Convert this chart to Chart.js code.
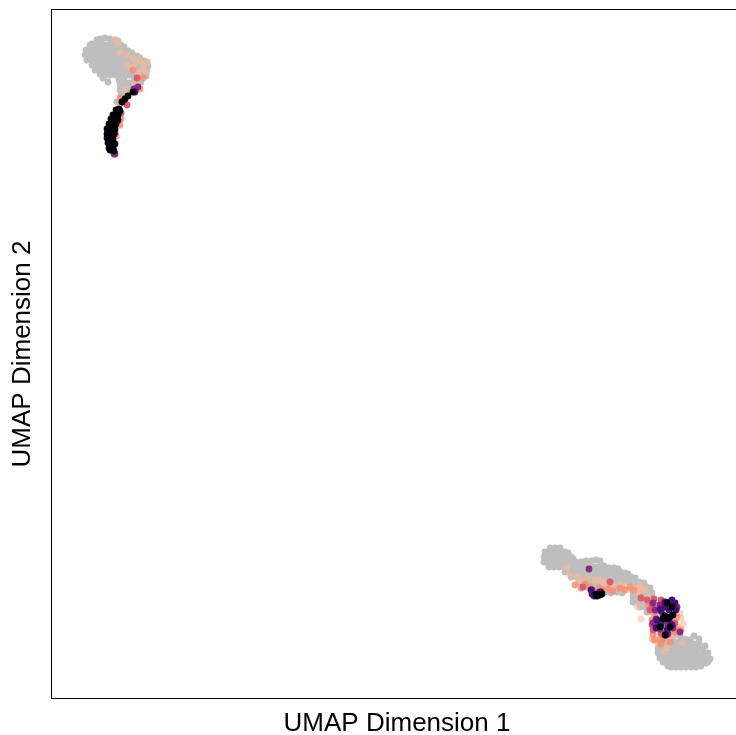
<!DOCTYPE html>
<html>
<head>
<meta charset="utf-8">
<style>
  body { margin: 0; background: #fff; overflow: hidden; }
  canvas { display: block; }
</style>
<script src="https://cdn.jsdelivr.net/npm/chart.js@4"></script>
</head>
<body>
<!-- wider than the window on purpose, the box runs off the right side -->
<canvas id="myChart" width="743" height="735"></canvas>
<script>
let xTitle = 'UMAP Dimension 1';
let yTitle = 'UMAP Dimension 2';

// [dim1, dim2]
const grey = [
  [4.6,65.9],[4.9,66.0],[5.4,66.1],[5.9,66.0],[6.4,65.9],[6.7,65.8],
  [3.9,65.4],[4.1,65.5],[4.6,65.4],[5.1,65.5],[5.6,65.4],[6.1,65.5],[6.6,65.4],[7.0,65.4],[7.3,65.2],
  [3.5,64.9],[3.8,64.9],[4.3,64.9],[4.8,64.9],[5.3,64.9],[5.8,64.9],[6.3,64.9],[6.8,64.9],[7.3,64.9],[7.7,64.8],[8.1,64.6],
  [3.4,64.4],[3.6,64.4],[4.1,64.4],[4.6,64.4],[5.1,64.4],[5.6,64.4],[6.1,64.4],[6.6,64.4],[7.1,64.4],[7.6,64.4],[8.1,64.4],[8.6,64.3],[8.9,64.1],
  [3.6,63.9],[3.9,63.9],[4.4,63.9],[4.9,63.9],[5.4,63.9],[5.9,63.9],[6.4,63.9],[6.9,63.9],[7.4,63.9],[7.9,63.9],[8.4,63.9],[8.9,63.9],[9.3,63.8],[9.6,63.7],
  [4.1,63.4],[4.4,63.4],[4.9,63.4],[5.4,63.4],[5.9,63.4],[6.4,63.4],[6.9,63.4],[7.4,63.4],[7.9,63.4],[8.4,63.4],[8.9,63.4],[9.4,63.4],[9.7,63.3],
  [4.4,62.9],[4.7,62.9],[5.2,62.9],[5.7,62.9],[6.2,62.9],[6.7,62.9],[7.2,62.9],[7.7,62.9],[8.2,62.9],[8.7,62.9],[9.2,62.9],[9.6,62.9],
  [4.9,62.5],[5.4,62.4],[5.9,62.4],[6.4,62.4],[6.9,62.5],[7.4,62.5],[7.8,62.4],[8.3,62.4],[8.8,62.4],[9.3,62.5],[9.5,62.3],
  [5.2,62.1],[5.7,61.7],[6.8,61.9],[7.3,61.9],[7.8,61.6],[8.3,61.9],[8.8,61.9],[9.0,61.7],
  [6.9,61.4],[7.4,61.4],[7.8,61.2],[8.2,61.5],[8.6,61.3],
  [6.9,60.9],[7.3,60.9],[7.7,60.8],[8.0,61.0],[7.0,60.4],[7.4,60.4],[7.7,60.5],[6.6,59.7],
  [49.9,15.1],[50.4,15.1],[50.9,15.1],[49.4,14.7],[49.9,14.7],[50.4,14.7],[50.9,14.7],[51.4,14.7],[51.7,14.6],
  [49.3,14.2],[49.5,14.2],[50.0,14.2],[50.5,14.2],[51.0,14.2],[51.5,14.2],[52.0,14.2],[52.2,14.0],
  [49.3,13.7],[49.5,13.7],[50.0,13.7],[50.5,13.7],[51.0,13.7],[51.5,13.7],[52.0,13.7],[52.5,13.7],[53.0,13.7],[53.5,13.8],[54.0,13.8],[54.5,13.9],[54.9,13.8],
  [49.8,13.2],[50.3,13.2],[50.8,13.2],[51.3,13.2],[51.8,13.2],[52.3,13.2],[52.8,13.2],[53.3,13.2],[53.8,13.2],[54.3,13.2],[54.8,13.2],[55.3,13.3],[55.8,13.1],[56.3,13.1],[56.7,13.0],
  [51.4,12.7],[51.9,12.7],[52.4,12.7],[52.9,12.7],[53.4,12.7],[53.9,12.7],[54.4,12.7],[54.9,12.7],[55.4,12.7],[55.9,12.7],[56.4,12.7],[56.9,12.7],[57.4,12.6],[57.7,12.5],
  [52.0,12.2],[52.5,12.2],[53.0,12.2],[53.5,12.2],[54.0,12.2],[54.5,12.2],[55.0,12.2],[55.5,12.2],[56.0,12.2],[56.5,12.2],[57.0,12.2],[57.5,12.2],[58.0,12.2],[58.4,12.1],
  [52.8,11.7],[53.3,11.7],[53.8,11.7],[54.3,11.7],[54.8,11.7],[55.3,11.7],[55.8,11.7],[56.3,11.7],[56.8,11.7],[57.3,11.7],[57.8,11.7],[58.3,11.7],[58.8,11.7],[59.3,11.6],
  [53.6,11.2],[54.1,11.2],[54.6,11.2],[55.1,11.2],[55.6,11.2],[56.1,11.2],[56.6,11.2],[57.1,11.2],[58.5,11.2],[59.0,11.2],[59.5,11.2],[59.9,11.1],
  [55.5,10.7],[56.0,10.6],[56.6,10.7],[57.1,10.6],[58.2,10.7],[58.7,10.7],[59.2,10.7],[59.7,10.7],[60.1,10.6],
  [58.2,10.2],[58.7,10.2],[59.2,10.2],[59.7,10.2],[58.2,9.7],[58.7,9.7],[59.2,9.7],[59.6,9.6],
  [58.9,9.2],[59.4,9.2],[59.9,9.2],[59.6,8.7],[60.1,8.7],[60.4,8.5],
  [60.6,8.1],[61.2,8.0],[60.9,7.5],[61.6,7.2],[61.9,6.7],[62.1,7.0],[62.4,6.5],[62.9,6.3],
  [61.3,6.1],[61.7,5.8],[62.4,5.7],[62.9,5.7],[63.4,6.0],[63.9,5.9],[62.2,6.0],[64.3,6.3],[64.8,6.0],
  [61.0,5.9],[60.8,5.5],[61.3,5.5],[61.8,5.4],[62.3,5.3],[62.8,5.3],[63.3,5.4],[63.8,5.4],[64.3,5.5],[64.8,5.6],
  [60.7,5.1],[61.2,5.0],[61.7,4.9],[62.2,4.9],[62.7,4.9],[63.2,4.9],[63.7,4.9],[64.2,4.9],[64.7,5.0],[65.2,5.0],[65.4,5.3],
  [60.7,4.6],[61.1,4.5],[61.6,4.4],[62.1,4.4],[62.6,4.4],[63.1,4.4],[63.6,4.4],[64.1,4.4],[64.6,4.4],[65.1,4.4],[65.6,4.5],[65.7,4.6],
  [60.9,4.1],[61.2,4.0],[61.7,3.9],[62.2,3.9],[62.7,3.9],[63.2,3.9],[63.7,3.9],[64.2,3.9],[64.7,3.9],[65.2,3.9],[65.7,3.9],[65.9,4.0],
  [61.2,3.7],[61.5,3.6],[62.0,3.5],[62.5,3.5],[63.0,3.5],[63.5,3.5],[64.0,3.5],[64.5,3.5],[65.0,3.5],[65.5,3.6],[65.7,3.7],
  [61.7,3.3],[62.0,3.2],[62.5,3.2],[63.0,3.2],[63.5,3.2],[64.0,3.2],[64.5,3.2],[65.0,3.3]
];
const peach = [
  [6.4,65.9],[6.7,65.6],[6.9,64.6],[7.6,64.4],[8.2,64.1],[7.6,63.4],[8.4,63.6],[8.9,63.9],[9.6,63.7],[9.2,62.9],[8.2,63.1],[9.6,62.7],[8.9,62.1],[8.4,61.6],[7.4,60.9],[9.2,63.4],[8.7,62.7],
  [51.6,13.1],[51.9,12.4],[52.6,12.2],[53.6,12.1],[54.4,11.9],[55.0,11.9],[53.0,11.8],[55.6,11.5],[56.2,11.3],[55.2,11.6],[57.9,11.0],[58.6,11.0],[58.9,11.4],[59.0,10.9],[58.7,10.6],[58.1,10.9],[56.9,11.5],[57.5,11.3],[59.5,10.9],
  [59.0,8.0],[60.3,8.1],[62.1,7.9],[63.0,8.1],[60.7,7.0],[62.2,6.3],[60.7,5.6],[61.4,4.7],[63.1,5.6],[61.6,5.1],[60.1,6.0],[60.6,6.5],[61.7,6.0],[62.7,7.2],[63.2,7.5],[62.9,8.6],[59.6,10.2],[59.3,9.9],[58.6,9.2]
];
const coral = [
  [9.2,62.1],[8.2,62.9],[8.9,61.0],[6.9,60.1],[6.2,57.1],[7.0,58.0],[6.9,57.4],[6.5,56.3],[6.1,54.9],[5.8,55.6],
  [52.4,11.4],[53.9,11.2],[55.2,10.9],[55.7,11.0],[56.9,11.1],[57.4,10.9],[57.9,11.2],[56.2,10.8],[54.8,11.1],[58.3,10.9],[53.4,11.5],[53.0,11.1],
  [60.4,8.6],[62.2,8.6],[60.4,7.2],[60.1,7.9],[60.2,6.4],[61.2,6.0],[61.9,5.7],[62.4,6.7],[60.9,6.0],[61.2,9.1],[62.6,8.2],[60.5,9.4],[59.8,9.3],[62.6,7.0],[61.0,5.5],[60.3,5.9],[63.0,6.9]
];
const pink = [
  [8.6,62.1],[7.6,59.4],[6.6,57.7],[7.0,58.6],[53.2,11.2],[55.9,11.7],
  [59.6,9.9],[59.0,10.1],[60.1,9.4],[60.1,7.4],[59.9,8.9],[62.4,7.6],[61.0,6.6],[60.2,6.9],[60.3,10.0],[61.0,9.9]
];
const purple = [
  [8.7,61.2],[8.3,61.0],[7.1,59.7],[6.4,56.6],[6.4,54.5],[6.3,54.5],
  [53.8,13.0],[54.1,10.9],[55.0,10.7],
  [60.2,9.6],[60.9,9.4],[60.4,8.9],[61.2,8.4],[60.7,7.6],[60.2,7.6],[61.7,7.4],[62.2,7.1],[60.9,7.0],[62.9,6.7],[61.7,6.5],[60.5,8.0],[61.6,7.9],[62.6,9.2],[60.6,7.2],[61.3,7.8],[61.9,7.6]
];
const darkPurple = [
  [8.4,60.7],[54.1,10.5],[54.0,10.9],[54.9,10.7],[54.3,10.3],
  [61.4,9.7],[61.9,9.7],[61.4,9.2],[61.0,8.8],[61.8,8.9],[60.6,7.9],[61.0,7.3],[61.6,6.9],[62.1,7.4],[60.5,7.1],[61.5,6.4],[62.4,9.6],[62.1,9.9],[60.9,9.0],[62.5,8.9]
];
const black = [
  [8.2,60.7],[7.7,60.3],[7.4,60.0],[7.1,59.7],[6.8,59.0],[6.5,58.9],[6.9,58.8],[6.2,58.4],[6.7,58.4],[6.0,58.0],[6.4,57.9],[6.7,57.9],[5.8,57.5],[6.1,57.5],[6.5,57.5],
  [5.6,57.0],[6.0,57.0],[6.4,57.0],[5.6,56.5],[5.9,56.5],[6.3,56.5],[5.6,56.1],[5.9,56.1],[6.2,56.0],[5.7,55.6],[6.0,55.7],[5.8,55.1],[6.2,55.2],[5.9,54.9],[6.3,54.8],
  [6.4,55.5],
  [54.5,10.5],[54.9,10.4],[54.6,10.3],[55.1,10.5],
  [62.1,9.2],[61.6,9.6],[61.4,8.3],[62.2,8.4],[61.2,8.0],[61.7,8.0],[61.9,8.2],[60.9,7.2],[61.9,7.2],[61.4,6.4]
];

function setOf(points, color, order) {
  return {
    data: points.map(p => ({ x: p[0], y: p[1] })),
    backgroundColor: color,
    borderWidth: 0,
    order: order,
    pointRadius: 3.4,
    pointHoverRadius: 3.4
  };
}

// no ticks, just the box
const frame = {
  id: 'frame',
  afterDraw(chart) {
    let a = chart.chartArea;
    chart.ctx.save();
    chart.ctx.strokeStyle = '#000';
    chart.ctx.lineWidth = 1;
    chart.ctx.strokeRect(a.left + 0.5, a.top + 0.5, a.width - 1, a.height - 1);
    chart.ctx.restore();
  }
};

let chartFont = { family: '"Liberation Sans", Arial, sans-serif', size: 26 };

new Chart(document.getElementById('myChart'), {
  type: 'scatter',
  data: {
    datasets: [
      setOf(grey, '#bebebe', 7),
      setOf(peach, 'rgba(252,186,148,0.55)', 6),
      setOf(coral, 'rgba(249,142,111,0.85)', 5),
      setOf(pink, '#dc5a72', 4),
      setOf(purple, '#8c2a81', 3),
      setOf(darkPurple, '#45107a', 2),
      setOf(black, '#000004', 1)
    ]
  },
  options: {
    responsive: false,
    animation: false,
    devicePixelRatio: 1,
    layout: { autoPadding: false, padding: { top: 9, right: 0, left: 0, bottom: 0 } },
    plugins: { legend: { display: false }, tooltip: { enabled: false } },
    scales: {
      x: {
        type: 'linear', min: 0, max: 69.2,
        grid: { display: false }, border: { display: false },
        ticks: { display: false },
        title: { display: true, text: xTitle, color: '#000', font: chartFont, padding: { top: 0, bottom: -4 } },
        afterFit(s) { s.height = 36; }
      },
      y: {
        type: 'linear', min: 0, max: 69,
        grid: { display: false }, border: { display: false },
        ticks: { display: false },
        title: { display: true, text: yTitle, color: '#000', font: chartFont, padding: { top: 7, bottom: 6 } },
        afterFit(s) { s.width = 51; }
      }
    }
  },
  plugins: [frame]
});
</script>
</body>
</html>
